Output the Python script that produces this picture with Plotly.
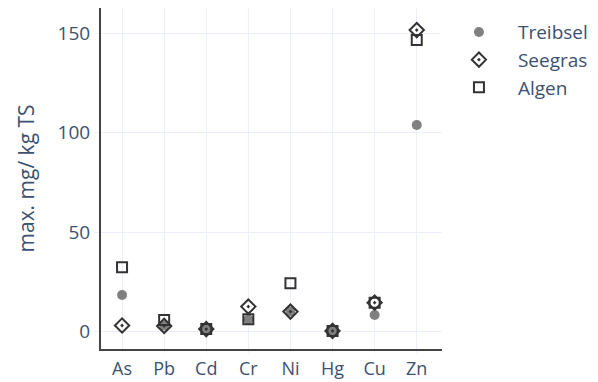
import plotly.graph_objects as go

elements = ["As", "Pb", "Cd", "Cr", "Ni", "Hg", "Cu", "Zn"]
treibsel = [18.3, 3.0, 1.2, 6.0, 10.0, 0.3, 8.3, 103.8]
seegras = [3.0, 2.8, 1.2, 12.5, 10.0, 0.3, 14.5, 151.5]
algen = [32.3, 5.8, 1.2, 6.1, 24.2, 0.3, 14.5, 146.5]

font_color = "#3d5170"
grid = "#EBF0F8"

fig = go.Figure()
fig.add_trace(go.Scatter(x=elements, y=treibsel, mode="markers", name="Treibsel",
                         marker=dict(symbol="circle", size=10, color="#808080")))
fig.add_trace(go.Scatter(x=elements, y=seegras, mode="markers", name="Seegras",
                         marker=dict(symbol="diamond-open-dot", size=11, color="#333333",
                                     line=dict(width=2))))
fig.add_trace(go.Scatter(x=elements, y=algen, mode="markers", name="Algen",
                         marker=dict(symbol="square-open", size=10, color="#333333",
                                     line=dict(width=2))))

fig.update_layout(
    width=598, height=382,
    template="plotly_white",
    font=dict(family="Open Sans", size=19, color=font_color),
    margin=dict(l=93, r=164, t=0, b=41),
    paper_bgcolor="white", plot_bgcolor="white",
    legend=dict(x=0.994, y=0.985, xanchor="left", yanchor="top",
                font=dict(size=19, color=font_color), itemwidth=68),
    xaxis=dict(range=[-0.5, 7.6], showline=True, linecolor="#444", linewidth=2,
               showgrid=True, gridcolor=grid, ticks="outside", tickcolor=grid, ticklen=2,
               tickfont=dict(size=18), zeroline=False),
    yaxis=dict(range=[-8.8, 162.6], showline=True, linecolor="#444", linewidth=2,
               showgrid=True, gridcolor=grid, ticks="outside", tickcolor=grid, ticklen=5,
               tickvals=[0, 50, 100, 150], tickfont=dict(size=19), zeroline=False),
    annotations=[dict(text="max. mg/ kg TS", xref="paper", yref="paper",
                      x=-0.22, y=0.5, textangle=-90, showarrow=False,
                      xanchor="center", yanchor="middle",
                      font=dict(size=21, color=font_color))],
)

fig.write_html("out.html")
